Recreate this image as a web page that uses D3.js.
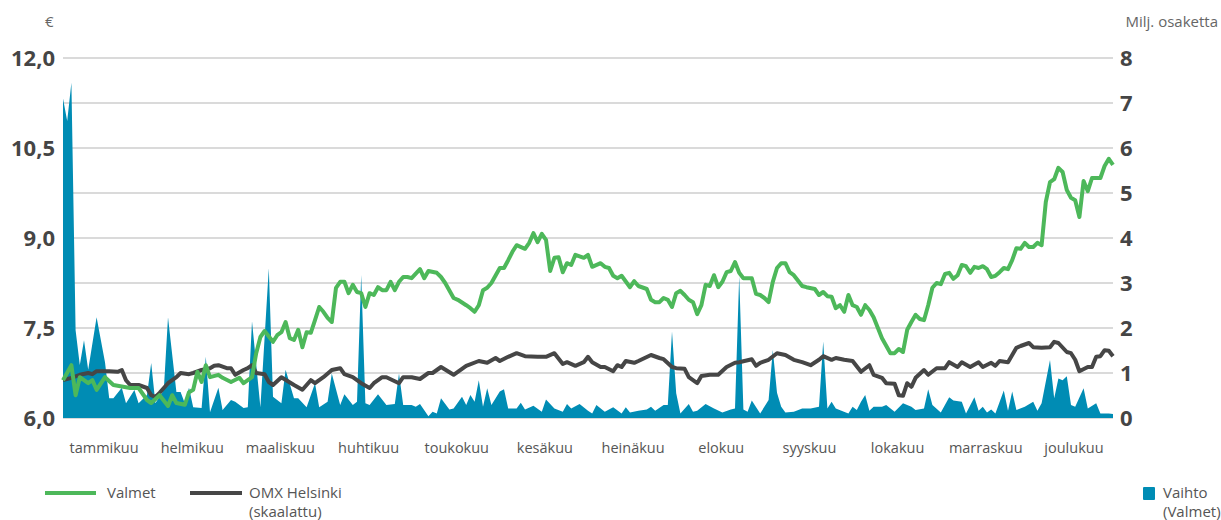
<!DOCTYPE html>
<html lang="fi">
<head>
  <meta charset="UTF-8">
  <title>Valmet osakekurssi</title>
  <style>
    body { margin: 0; background: #fff; }
    svg { font-family: "Open Sans", sans-serif; }
    .grid line { stroke: #dadada; stroke-width: 2px; }
    .tick-l, .tick-r { font-size: 22px; font-weight: 700; fill: #454545; }
    .unit { font-size: 15px; fill: #666; }
    .month { font-size: 14.5px; fill: #555; }
    .legend text { font-size: 15px; fill: #555; }
  </style>
</head>
<body>
  <div id="chart"></div>
  <script src="https://d3js.org/d3.v7.min.js"></script>
  <script>
    // kuukaudet (x-akselin otsikot)
    const months = ['tammikuu', 'helmikuu', 'maaliskuu', 'huhtikuu', 'toukokuu', 'kesäkuu',
      'heinäkuu', 'elokuu', 'syyskuu', 'lokakuu', 'marraskuu', 'joulukuu'];
    const leftTicks = [6.0, 7.5, 9.0, 10.5, 12.0];
    const rightTicks = [0, 1, 2, 3, 4, 5, 6, 7, 8];
    const tradingDays = 250;

    // [kaupankäyntipäivä, €]
    const valmet = [
      [0, 6.63], [2, 6.88], [3, 6.38], [4, 6.68], [6, 6.58], [7, 6.63], [8, 6.47], [10, 6.68], [12, 6.55],
      [16, 6.5], [18, 6.5], [20, 6.3], [21, 6.25], [23, 6.38], [25, 6.2], [26, 6.38], [27, 6.25], [29, 6.22],
      [30, 6.43], [31, 6.47], [32, 6.77], [33, 6.6], [34, 6.88], [35, 6.68], [37, 6.72], [38, 6.67], [40, 6.6],
      [42, 6.67], [43, 6.58], [45, 6.68], [46, 7.08], [47, 7.35], [48, 7.45], [50, 7.27], [51, 7.38], [52, 7.43],
      [53, 7.6], [54, 7.33], [55, 7.3], [56, 7.47], [57, 7.18], [58, 7.43], [59, 7.42], [60, 7.63], [61, 7.85],
      [62, 7.77], [63, 7.67], [64, 7.6], [65, 8.17], [66, 8.27], [67, 8.27], [68, 8.08], [69, 8.22], [70, 8.1],
      [71, 8.08], [72, 7.85], [73, 8.08], [74, 8.05], [75, 8.18], [76, 8.13], [77, 8.13], [78, 8.27], [79, 8.13],
      [80, 8.27], [81, 8.35], [82, 8.35], [83, 8.33], [85, 8.48], [86, 8.33], [87, 8.45], [89, 8.42], [90, 8.35],
      [91, 8.25], [93, 8.0], [94, 7.97], [96, 7.88], [97, 7.83], [98, 7.77], [99, 7.88], [100, 8.13], [101, 8.17],
      [102, 8.25], [104, 8.5], [105, 8.5], [106, 8.63], [107, 8.77], [108, 8.88], [110, 8.82], [111, 8.92],
      [112, 9.08], [113, 8.93], [114, 9.07], [115, 8.97], [116, 8.45], [117, 8.67], [118, 8.68], [119, 8.43],
      [120, 8.58], [121, 8.55], [122, 8.72], [124, 8.67], [125, 8.72], [126, 8.52], [128, 8.58], [129, 8.52],
      [130, 8.5], [131, 8.37], [132, 8.33], [133, 8.37], [135, 8.18], [136, 8.28], [137, 8.2], [139, 8.15],
      [140, 7.97], [141, 7.93], [142, 7.93], [143, 8.0], [144, 7.97], [145, 7.85], [146, 8.08], [147, 8.12],
      [148, 8.05], [149, 7.97], [150, 7.93], [151, 7.73], [152, 7.88], [153, 8.22], [154, 8.2], [155, 8.38],
      [156, 8.18], [157, 8.27], [158, 8.43], [159, 8.45], [160, 8.6], [161, 8.42], [162, 8.33], [164, 8.33],
      [165, 8.07], [166, 8.05], [167, 8.0], [168, 7.93], [169, 8.27], [170, 8.5], [171, 8.58], [172, 8.58],
      [173, 8.43], [174, 8.38], [176, 8.2], [177, 8.18], [179, 8.15], [180, 8.05], [181, 8.1], [182, 8.03],
      [183, 8.02], [184, 7.83], [185, 7.88], [186, 7.77], [187, 8.05], [188, 7.88], [189, 7.85], [190, 7.72],
      [191, 7.88], [192, 7.8], [193, 7.68], [195, 7.33], [197, 7.08], [198, 7.08], [199, 7.15], [200, 7.1],
      [201, 7.47], [202, 7.6], [203, 7.72], [204, 7.65], [205, 7.63], [206, 7.88], [207, 8.17], [208, 8.25],
      [209, 8.23], [210, 8.4], [211, 8.42], [212, 8.32], [213, 8.38], [214, 8.55], [215, 8.53], [216, 8.42],
      [217, 8.52], [218, 8.5], [219, 8.53], [220, 8.48], [221, 8.35], [222, 8.37], [223, 8.43], [224, 8.5],
      [225, 8.48], [226, 8.63], [227, 8.83], [228, 8.82], [229, 8.92], [230, 8.85], [231, 8.85], [232, 8.92],
      [233, 8.88], [234, 9.6], [235, 9.93], [236, 9.98], [237, 10.17], [238, 10.1], [239, 9.8], [240, 9.67],
      [241, 9.63], [242, 9.35], [243, 9.95], [244, 9.78], [245, 10.0], [247, 10.0], [248, 10.2], [249, 10.32],
      [250, 10.22]
    ];

    // OMX Helsinki skaalattuna €-asteikolle
    const omx = [
      [0, 6.63], [2, 6.67], [4, 6.72], [6, 6.75], [7, 6.73], [8, 6.78], [11, 6.78], [13, 6.77], [14, 6.8],
      [15, 6.63], [16, 6.55], [18, 6.55], [20, 6.5], [21, 6.38], [22, 6.35], [23, 6.42], [25, 6.58], [27, 6.68],
      [28, 6.75], [30, 6.73], [31, 6.75], [33, 6.8], [35, 6.83], [36, 6.87], [37, 6.88], [39, 6.83], [40, 6.83],
      [41, 6.72], [43, 6.8], [44, 6.83], [45, 6.88], [46, 6.75], [48, 6.73], [49, 6.6], [50, 6.55], [52, 6.68],
      [55, 6.55], [57, 6.47], [59, 6.63], [60, 6.58], [62, 6.68], [64, 6.8], [66, 6.83], [67, 6.73], [69, 6.68],
      [71, 6.58], [73, 6.5], [74, 6.58], [76, 6.68], [77, 6.68], [80, 6.58], [81, 6.68], [83, 6.68], [85, 6.65],
      [87, 6.75], [88, 6.75], [90, 6.85], [93, 6.72], [96, 6.87], [99, 6.95], [101, 6.92], [103, 7.0], [104, 6.95],
      [106, 7.02], [108, 7.08], [110, 7.03], [113, 7.02], [115, 7.02], [117, 7.08], [119, 6.9], [120, 6.93],
      [122, 6.87], [124, 6.93], [125, 7.02], [126, 6.93], [128, 6.85], [129, 6.85], [131, 6.78], [132, 6.88],
      [133, 6.85], [134, 6.95], [136, 6.92], [137, 6.95], [140, 7.05], [142, 7.0], [143, 6.98], [145, 6.85],
      [146, 6.83], [148, 6.82], [149, 6.68], [151, 6.58], [152, 6.7], [154, 6.72], [156, 6.72], [158, 6.85],
      [160, 6.92], [161, 6.93], [164, 6.98], [165, 6.87], [166, 6.92], [168, 6.97], [170, 7.08], [172, 7.05],
      [174, 6.97], [176, 6.93], [178, 6.88], [180, 6.97], [181, 7.03], [183, 6.97], [184, 7.0], [186, 6.97],
      [188, 6.95], [190, 6.77], [192, 6.88], [193, 6.72], [195, 6.67], [196, 6.58], [198, 6.57], [199, 6.38],
      [200, 6.37], [201, 6.58], [202, 6.52], [203, 6.67], [205, 6.8], [206, 6.72], [208, 6.83], [210, 6.83],
      [211, 6.93], [213, 6.85], [214, 6.93], [216, 6.85], [218, 6.93], [219, 6.85], [221, 6.92], [222, 6.87],
      [223, 6.95], [225, 6.93], [227, 7.17], [228, 7.2], [230, 7.25], [231, 7.18], [233, 7.17], [235, 7.18],
      [236, 7.27], [237, 7.25], [239, 7.1], [240, 7.08], [241, 6.97], [242, 6.78], [244, 6.85], [245, 6.85],
      [246, 7.02], [247, 7.03], [248, 7.13], [249, 7.12], [250, 7.03]
    ];

    // vaihto, milj. osaketta
    const volume = [
      [0, 7.1], [1, 6.6], [2, 7.45], [3, 1.95], [4, 1.18], [5, 1.73], [6, 1.07], [8, 2.24], [10, 1.24],
      [11, 0.44], [12, 0.44], [14, 0.67], [15, 0.33], [17, 0.62], [18, 0.33], [20, 0.51], [21, 1.22], [22, 0.33],
      [24, 0.62], [25, 2.24], [27, 0.58], [28, 0.58], [29, 0.33], [30, 0.67], [31, 0.24], [33, 0.22], [34, 1.36],
      [35, 0.13], [37, 0.67], [38, 0.18], [40, 0.4], [41, 0.36], [43, 0.22], [44, 0.24], [45, 2.15], [47, 0.24],
      [49, 3.33], [50, 0.47], [52, 0.33], [53, 1.07], [55, 0.44], [56, 0.44], [58, 0.24], [60, 0.77], [61, 0.24],
      [63, 0.36], [64, 0.99], [66, 0.29], [67, 0.53], [69, 0.29], [70, 0.36], [71, 3.18], [72, 0.33], [73, 0.29],
      [75, 0.53], [77, 0.29], [79, 0.31], [80, 0.99], [81, 0.29], [83, 0.29], [84, 0.25], [85, 0.31], [87, 0.04],
      [88, 0.14], [89, 0.1], [90, 0.44], [92, 0.19], [93, 0.21], [95, 0.47], [96, 0.29], [97, 0.51], [98, 0.36],
      [99, 0.84], [100, 0.25], [101, 0.66], [102, 0.29], [104, 0.59], [105, 0.64], [106, 0.21], [108, 0.21],
      [109, 0.34], [110, 0.19], [112, 0.27], [114, 0.14], [115, 0.41], [117, 0.21], [119, 0.14], [120, 0.31],
      [121, 0.21], [123, 0.31], [125, 0.16], [126, 0.1], [127, 0.29], [129, 0.14], [131, 0.24], [133, 0.1],
      [134, 0.24], [135, 0.12], [137, 0.16], [139, 0.19], [140, 0.25], [141, 0.16], [143, 0.29], [144, 0.29],
      [145, 1.92], [146, 0.55], [147, 0.1], [149, 0.31], [150, 0.14], [151, 0.16], [153, 0.31], [155, 0.21],
      [157, 0.12], [159, 0.19], [160, 0.21], [161, 3.15], [162, 0.19], [163, 0.14], [164, 0.39], [166, 0.1],
      [168, 0.4], [169, 1.51], [170, 0.56], [171, 0.25], [172, 0.12], [174, 0.14], [176, 0.21], [178, 0.21],
      [180, 0.25], [181, 1.7], [182, 0.21], [183, 0.36], [184, 0.21], [187, 0.1], [188, 0.25], [189, 0.18],
      [190, 0.36], [191, 0.51], [192, 0.16], [193, 0.25], [195, 0.25], [196, 0.29], [198, 0.14], [200, 0.33],
      [202, 0.25], [203, 0.18], [205, 0.21], [206, 0.64], [207, 0.29], [209, 0.12], [211, 0.46], [212, 0.39],
      [214, 0.36], [215, 0.1], [217, 0.46], [218, 0.16], [219, 0.25], [220, 0.12], [221, 0.19], [222, 0.1],
      [224, 0.61], [225, 0.16], [226, 0.59], [227, 0.18], [229, 0.25], [231, 0.36], [232, 0.16], [233, 0.33],
      [235, 1.29], [236, 0.44], [237, 0.88], [238, 0.84], [239, 0.93], [240, 0.29], [241, 0.25], [243, 0.66],
      [244, 0.21], [246, 0.33], [247, 0.1], [249, 0.1], [250, 0.09]
    ];

    const W = 1221, H = 520;
    const plot = { left: 63, right: 1113, top: 58, bottom: 418 };

    const svg = d3.select('#chart').append('svg')
      .attr('width', W)
      .attr('height', H);

    const x = d3.scaleLinear().domain([0, tradingDays]).range([plot.left, plot.right]);
    const xMonth = d3.scaleBand().domain(months).range([60, 1118]);
    const yPrice = d3.scaleLinear().domain([6, 12]).range([plot.bottom, plot.top]);
    const yVol = d3.scaleLinear().domain([0, 8]).range([plot.bottom, plot.top]);

    // ruudukko
    svg.append('g')
      .attr('class', 'grid')
      .selectAll('line')
      .data(rightTicks)
      .enter().append('line')
      .attr('x1', plot.left)
      .attr('x2', plot.right)
      .attr('y1', d => yVol(d))
      .attr('y2', d => yVol(d));

    // vaihto alue
    const area = d3.area()
      .x(d => x(d[0]))
      .y0(yVol(0))
      .y1(d => yVol(d[1]));

    svg.append('path')
      .datum(volume)
      .attr('fill', '#008cb4')
      .attr('d', area);

    const priceLine = d3.line()
      .x(d => x(d[0]))
      .y(d => yPrice(d[1]));

    svg.append('path')
      .datum(omx)
      .attr('fill', 'none')
      .attr('stroke', '#464646')
      .attr('stroke-width', 4)
      .attr('stroke-linejoin', 'round')
      .attr('d', priceLine);

    svg.append('path')
      .datum(valmet)
      .attr('fill', 'none')
      .attr('stroke', '#4db85a')
      .attr('stroke-width', 4)
      .attr('stroke-linejoin', 'round')
      .attr('d', priceLine);

    // akselit
    svg.append('g')
      .selectAll('text')
      .data(leftTicks)
      .enter().append('text')
      .attr('class', 'tick-l')
      .attr('x', 55)
      .attr('y', d => yPrice(d))
      .attr('dy', '0.36em')
      .attr('text-anchor', 'end')
      .text(d => d3.format('.1f')(d).replace('.', ','));

    svg.append('g')
      .selectAll('text')
      .data(rightTicks)
      .enter().append('text')
      .attr('class', 'tick-r')
      .attr('x', 1120)
      .attr('y', d => yVol(d))
      .attr('dy', '0.36em')
      .text(d => d);

    svg.append('text').attr('class', 'unit').attr('x', 45).attr('y', 27).text('€');
    svg.append('text').attr('class', 'unit').attr('x', 1218).attr('y', 27)
      .attr('text-anchor', 'end').text('Milj. osaketta');

    svg.append('g')
      .selectAll('text')
      .data(months)
      .enter().append('text')
      .attr('class', 'month')
      .attr('x', d => xMonth(d) + xMonth.bandwidth() / 2)
      .attr('y', 453)
      .attr('text-anchor', 'middle')
      .text(d => d);

    // selite
    const legend = svg.append('g').attr('class', 'legend');
    legend.append('line').attr('x1', 45).attr('x2', 96).attr('y1', 493).attr('y2', 493)
      .attr('stroke', '#4db85a').attr('stroke-width', 4);
    legend.append('text').attr('x', 107).attr('y', 498).text('Valmet');
    legend.append('line').attr('x1', 190).attr('x2', 242).attr('y1', 493).attr('y2', 493)
      .attr('stroke', '#464646').attr('stroke-width', 4);
    legend.append('text').attr('x', 249).attr('y', 498).text('OMX Helsinki');
    legend.append('text').attr('x', 249).attr('y', 517).text('(skaalattu)');
    legend.append('rect').attr('x', 1143).attr('y', 487).attr('width', 12).attr('height', 13)
      .attr('rx', 1).attr('fill', '#008cb4');
    legend.append('text').attr('x', 1163).attr('y', 498).text('Vaihto');
    legend.append('text').attr('x', 1163).attr('y', 517).text('(Valmet)');
  </script>
</body>
</html>
